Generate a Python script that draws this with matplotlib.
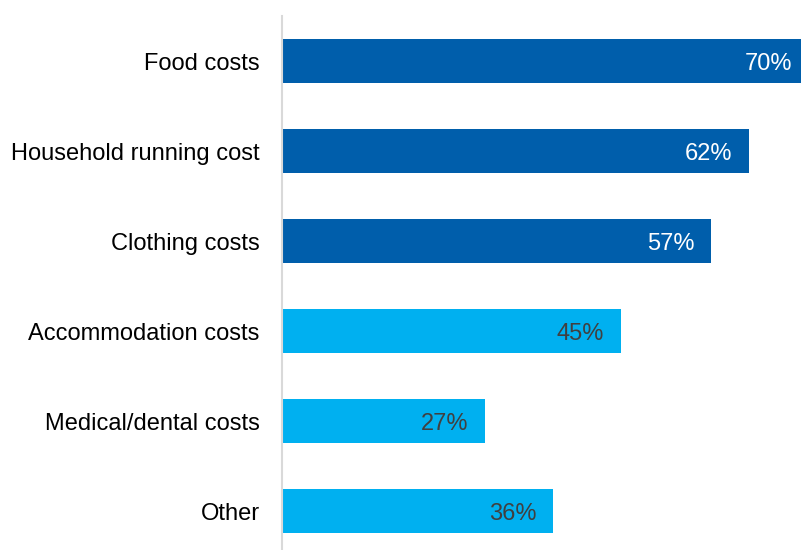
import matplotlib.pyplot as plt

plt.rcParams['font.family'] = ['Liberation Sans', 'DejaVu Sans']

categories = ["Food costs", "Household running cost", "Clothing costs",
              "Accommodation costs", "Medical/dental costs", "Other"]
values = [70, 62, 57, 45, 27, 36]
highlight = [True, True, True, False, False, False]

DARK = "#005EAB"
LIGHT = "#00B0F0"

fig = plt.figure(figsize=(8.01, 5.5), dpi=100)
ax = fig.add_axes([282 / 801, 0, 1 - 282 / 801, 534 / 550])

ypos = list(range(len(categories)))
colors = [DARK if h else LIGHT for h in highlight]
ax.barh(ypos, values, height=0.49, color=colors, zorder=2)

for y, v, h in zip(ypos, values, highlight):
    ax.annotate(f"{v}%", xy=(v, y), xytext=(-12, 0), textcoords="offset points",
                ha="right", va="center_baseline", fontsize=17,
                color="white" if h else "#404040", annotation_clip=False)

ax.set_xlim(0, 68.9)
ax.set_ylim(5.43, -0.5)
ax.set_yticks(ypos)
ax.set_yticklabels(categories, fontsize=17, color="black")
ax.tick_params(axis="y", length=0, pad=16)
ax.set_xticks([])
for side in ["top", "right", "bottom"]:
    ax.spines[side].set_visible(False)
ax.spines["left"].set_color("#D9D9D9")
ax.spines["left"].set_linewidth(1.5)
ax.spines["left"].set_zorder(3)

fig.savefig("out.png", dpi=100)
